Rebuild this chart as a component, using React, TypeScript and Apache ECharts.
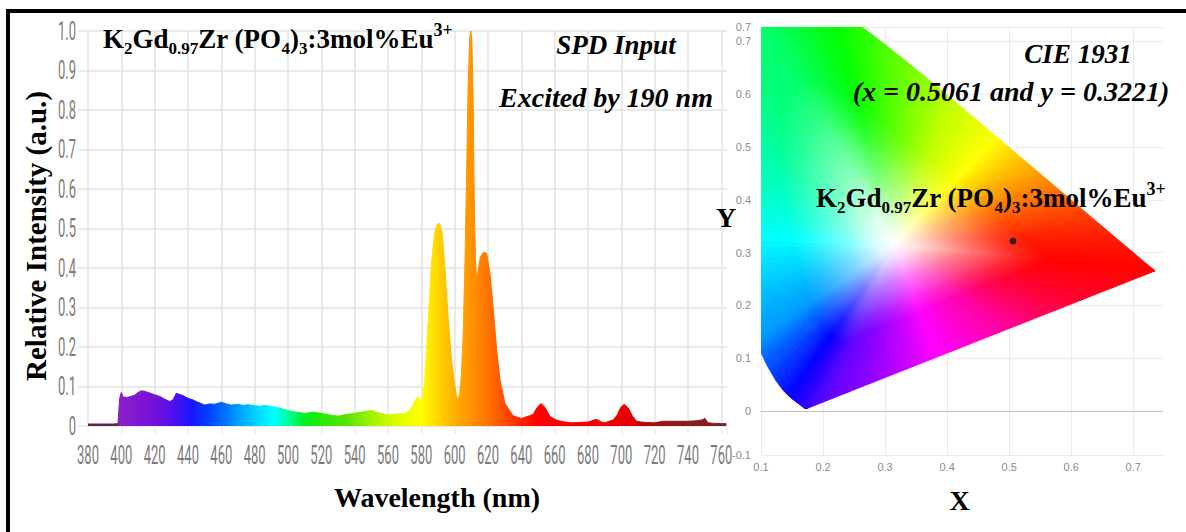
import React, { useEffect, useRef } from 'react';
import * as echarts from 'echarts';

// ---------- Spectrum (left panel) ----------
const wavelengths = [
  380, 385, 390, 395, 398, 399, 400, 401, 403, 405, 408, 410, 412, 414, 416, 418, 420, 423, 426, 429,
  431, 433, 435, 437, 440, 443, 446, 450, 453, 456, 460, 463, 466, 470, 473, 476, 480, 483, 486, 490,
  494, 497, 500, 505, 510, 515, 520, 525, 530, 535, 540, 545, 550, 553, 556, 560, 565, 570, 573, 575,
  577, 578, 580, 582, 584, 586, 588, 589.5, 591, 592.5, 594, 596, 598, 600, 601.5, 603, 604, 605, 606, 607,
  608, 609, 609.7, 610.3, 611, 611.7, 612.5, 613.2, 614, 615.4, 617.4, 619.2, 621.2, 623.2, 625.2, 627.2, 630.2, 635,
  640, 645, 647.2, 649.2, 651.8, 654.2, 657.2, 661, 665, 670, 675, 680, 685, 688, 690, 695, 697.6, 699.6,
  701.8, 704.2, 706.8, 709.2, 712, 715, 720, 725, 730, 735, 740, 745, 749, 750, 752, 755, 760, 763
];
const intensity = [
  0.005, 0.005, 0.005, 0.005, 0.006, 0.07, 0.085, 0.074, 0.072, 0.074, 0.078, 0.085, 0.089, 0.088, 0.085, 0.082, 0.079, 0.075, 0.068, 0.062,
  0.066, 0.083, 0.08, 0.077, 0.07, 0.066, 0.06, 0.053, 0.056, 0.055, 0.06, 0.056, 0.053, 0.055, 0.052, 0.054, 0.051, 0.05, 0.052, 0.05,
  0.046, 0.043, 0.039, 0.035, 0.032, 0.035, 0.032, 0.028, 0.025, 0.029, 0.032, 0.036, 0.039, 0.035, 0.032, 0.028, 0.03, 0.032, 0.04, 0.054,
  0.07, 0.074, 0.062, 0.11, 0.26, 0.41, 0.49, 0.51, 0.513, 0.49, 0.41, 0.28, 0.17, 0.105, 0.066, 0.08, 0.13, 0.22, 0.38, 0.6,
  0.85, 0.98, 1.0, 0.98, 0.85, 0.58, 0.42, 0.365, 0.39, 0.428, 0.44, 0.437, 0.386, 0.294, 0.192, 0.116, 0.057, 0.026,
  0.019, 0.026, 0.03, 0.045, 0.057, 0.047, 0.024, 0.015, 0.011, 0.008, 0.009, 0.01, 0.017, 0.01, 0.008, 0.015, 0.028, 0.047,
  0.055, 0.045, 0.024, 0.012, 0.01, 0.009, 0.008, 0.012, 0.012, 0.012, 0.012, 0.013, 0.016, 0.02, 0.008, 0.007, 0.006, 0.006
];
const xTickValues = [380, 400, 420, 440, 460, 480, 500, 520, 540, 560, 580, 600, 620, 640, 660, 680, 700, 720, 740, 760];
const yTickValues = [0, 0.1, 0.2, 0.3, 0.4, 0.5, 0.6, 0.7, 0.8, 0.9, 1.0];
const yTickLabels = ['0', '0.1', '0.2', '0.3', '0.4', '0.5', '0.6', '0.7', '0.8', '0.9', '1.0'];

// colour of the spectrum fill along wavelength
const gradWl = [380, 397, 399, 420, 432, 442, 452, 462, 472, 482, 492, 500, 510, 522, 535, 548, 560, 570, 580, 590, 600, 610, 620, 630, 640, 650, 690, 702, 712, 722, 740, 763];
const gradColor = ['#5a2550', '#5a2550', '#8c1fc8', '#7410d8', '#4a10f0', '#1a14ff', '#0040ff', '#0070ff', '#00a8ff', '#00d8ff', '#00ffff', '#00ff9a', '#00f020', '#30e800', '#58e400', '#98f000', '#c8fa00', '#e8ff00', '#ffff00', '#ffd400', '#ffb000', '#ff9200', '#ff7400', '#ff4c00', '#ff2200', '#ff0000', '#f20000', '#e80000', '#c80000', '#a01212', '#8a1c1c', '#7a2020'];

// ---------- CIE 1931 (right panel) ----------
// spectral locus 380..700 nm
const locus: [number, number][] = [
  [0.1741, 0.005], [0.174, 0.005], [0.1738, 0.0049], [0.1736, 0.0049], [0.1733, 0.0048], [0.173, 0.0048],
  [0.1726, 0.0048], [0.1721, 0.0048], [0.1714, 0.0051], [0.1703, 0.0058], [0.1689, 0.0069], [0.1669, 0.0086],
  [0.1644, 0.0109], [0.1611, 0.0138], [0.1566, 0.0177], [0.151, 0.0227], [0.144, 0.0297], [0.1355, 0.0399],
  [0.1241, 0.0578], [0.1096, 0.0868], [0.0913, 0.1327], [0.0687, 0.2007], [0.0454, 0.295], [0.0235, 0.4127],
  [0.0082, 0.5384], [0.0039, 0.6548], [0.0139, 0.7502], [0.0389, 0.812], [0.0743, 0.8338], [0.1142, 0.8262],
  [0.1547, 0.8059], [0.1929, 0.7816], [0.2296, 0.7543], [0.2658, 0.7243], [0.3016, 0.6923], [0.3373, 0.6589],
  [0.3731, 0.6245], [0.4087, 0.5896], [0.4441, 0.5547], [0.4788, 0.5202], [0.5125, 0.4866], [0.5448, 0.4544],
  [0.5752, 0.4242], [0.6029, 0.3965], [0.627, 0.3725], [0.6482, 0.3514], [0.6658, 0.334], [0.6801, 0.3197],
  [0.6915, 0.3083], [0.7006, 0.2993], [0.7079, 0.292], [0.719, 0.2809], [0.726, 0.274], [0.73, 0.27],
  [0.7334, 0.2666], [0.7347, 0.2653]
];
// line of purples, from red end back to violet end
const purpleLine: [number, number][] = [
  [0.7, 0.249], [0.65, 0.226], [0.6, 0.2027], [0.55, 0.1795], [0.5, 0.1563], [0.45, 0.1331],
  [0.4, 0.1099], [0.35, 0.0867], [0.3, 0.0635], [0.25, 0.0403], [0.2, 0.017]
];
const whitePoint: [number, number] = [0.315, 0.315];
const samplePoint: [number, number] = [0.5061, 0.3221];

// hue of the boundary around the white point (style)
const angleAnchors = [-7.5, 5, 28, 51, 72, 91.5, 98, 117, 159, 185, 219, 239, 250, 268, 287.6, 318, 337.5, 352.5];
const hueAnchors = [0, 8, 34, 60, 75, 101, 112, 145, 170, 185, 204, 240, 263, 281, 300, 322, 346, 360];
const whiteMixStops = [[0, 1], [0.1, 0.86], [0.28, 0.48], [0.48, 0.14], [0.6, 0], [1, 0]];
const SUBDIV = 8;

const serif = '"Liberation Serif", "Times New Roman", serif';
const sans = '"Liberation Sans", Arial, sans-serif';

function hueAt(angle: number): number {
  let a = angle;
  if (a < angleAnchors[0]) a += 360;
  if (a >= angleAnchors[angleAnchors.length - 1]) a -= 360;
  for (let i = 0; i < angleAnchors.length - 1; i++) {
    if (a >= angleAnchors[i] && a <= angleAnchors[i + 1]) {
      const t = (a - angleAnchors[i]) / (angleAnchors[i + 1] - angleAnchors[i]);
      return hueAnchors[i] + t * (hueAnchors[i + 1] - hueAnchors[i]);
    }
  }
  return 0;
}
function hueRgb(hue: number): number[] {
  const h = ((hue % 360) + 360) % 360;
  const x = 1 - Math.abs(((h / 60) % 2) - 1);
  let r = 0, g = 0, b = 0;
  if (h < 60) { r = 1; g = x; } else if (h < 120) { r = x; g = 1; } else if (h < 180) { g = 1; b = x; }
  else if (h < 240) { g = x; b = 1; } else if (h < 300) { r = x; b = 1; } else { r = 1; b = x; }
  return [r * 255, g * 255, b * 255];
}
function mixWhite(c: number[], m: number): string {
  const f = (v: number) => Math.round(v * (1 - m) + 255 * m);
  return `rgb(${f(c[0])},${f(c[1])},${f(c[2])})`;
}

const formulaText = '{m|K}{s|2}{m|Gd}{s|0.97}{m|Zr (PO}{s|4}{m|)}{s|3}{m|:3mol%Eu}{p|3+}';
const formulaRich = {
  m: { fontSize: 27, fontWeight: 'bold', fontFamily: serif, fill: '#000', color: '#000', lineHeight: 36 },
  s: { fontSize: 17, fontWeight: 'bold', fontFamily: serif, fill: '#000', color: '#000', lineHeight: 17, verticalAlign: 'bottom' },
  p: { fontSize: 18, fontWeight: 'bold', fontFamily: serif, fill: '#000', color: '#000', lineHeight: 26, verticalAlign: 'top' }
};

function titleText(x: number, y: number, text: string, size: number, italic: boolean, rotation = 0) {
  return {
    type: 'text', x, y, rotation, z: 100,
    style: {
      text, fontSize: size, fontWeight: 'bold', fontStyle: italic ? 'italic' : 'normal',
      fontFamily: serif, fill: '#000', align: 'center', verticalAlign: 'middle'
    }
  };
}

export default function App() {
  const leftRef = useRef<HTMLDivElement>(null);
  const rightRef = useRef<HTMLDivElement>(null);

  useEffect(() => {
    if (!leftRef.current || !rightRef.current) return;
    const left = echarts.init(leftRef.current, null, { renderer: 'svg' });
    const right = echarts.init(rightRef.current, null, { renderer: 'svg' });

    const wlMin = wavelengths[0];
    const wlMax = wavelengths[wavelengths.length - 1];
    const stops = gradWl.map((w, i) => ({ offset: Math.min(1, Math.max(0, (w - wlMin) / (wlMax - wlMin))), color: gradColor[i] }));
    const spectrumFill = new echarts.graphic.LinearGradient(0, 0, 1, 0, stops);
    const grid = '#e3e3e3';

    left.setOption({
      animation: false,
      backgroundColor: '#fff',
      grid: { left: 88, right: 7, top: 31, bottom: 106 },
      xAxis: {
        type: 'value', min: 380, max: 763.4, interval: 20,
        axisLabel: { show: false }, axisLine: { show: false },
        axisTick: { show: true, length: 8, lineStyle: { color: '#ececec', width: 1.5 } },
        splitLine: { show: true, showMaxLine: false, lineStyle: { color: grid, width: 1.5 } }
      },
      yAxis: {
        type: 'value', min: 0, max: 1, interval: 0.1,
        axisLabel: { show: false }, axisLine: { show: false },
        axisTick: { show: true, length: 10, lineStyle: { color: grid, width: 1.5 } },
        splitLine: { show: true, lineStyle: { color: grid, width: 1.5 } }
      },
      series: [
        {
          type: 'line', name: 'SPD', symbol: 'none', z: 3,
          data: wavelengths.map((w, i) => [w, intensity[i]]),
          lineStyle: { width: 1, color: spectrumFill },
          areaStyle: { color: spectrumFill, opacity: 1 }
        },
        {
          type: 'custom', name: 'xLabels', clip: false, silent: true,
          data: xTickValues.map((v) => [v, 0]),
          renderItem: (params: any, api: any) => {
            const v = xTickValues[params.dataIndex];
            const p = api.coord([v, 0]);
            return {
              type: 'text', x: p[0], y: p[1] + 29, scaleX: 0.5,
              style: { text: String(v), fontSize: 26, fontFamily: 'Roboto, sans-serif', fill: '#7b7b7b', align: 'center', verticalAlign: 'middle' }
            };
          }
        },
        {
          type: 'custom', name: 'yLabels', clip: false, silent: true,
          data: yTickValues.map((v) => [380, v]),
          renderItem: (params: any, api: any) => {
            const v = yTickValues[params.dataIndex];
            const p = api.coord([380, v]);
            return {
              type: 'text', x: p[0] - 12, y: p[1], scaleX: 0.5,
              style: { text: yTickLabels[params.dataIndex], fontSize: 26, fontFamily: 'Roboto, sans-serif', fill: '#7b7b7b', align: 'right', verticalAlign: 'middle' }
            };
          }
        }
      ],
      graphic: [
        { type: 'text', x: 103, y: 39, z: 100, style: { text: formulaText, rich: formulaRich, fontFamily: serif, fontSize: 27, fill: '#000', align: 'left', verticalAlign: 'middle' } },
        titleText(616, 45, 'SPD Input', 27, true),
        titleText(606, 97, 'Excited by 190 nm', 28, true),
        titleText(437, 497, 'Wavelength (nm)', 28, false),
        titleText(36, 236, 'Relative Intensity (a.u.)', 29, false, Math.PI / 2)
      ]
    });

    const boundary: [number, number][] = [...locus, ...purpleLine];
    const fmt = (v: number) => (Math.abs(v) < 1e-9 ? '0' : v.toFixed(1));
    const cieGrid = '#ebebeb';

    right.setOption({
      animation: false,
      grid: { left: 46, right: 23, top: 27, bottom: 77 },
      xAxis: {
        type: 'value', min: 0.1, max: 0.748, interval: 0.1,
        axisLabel: { formatter: fmt, color: '#8c8c8c', fontSize: 11, fontFamily: sans, margin: 6, showMaxLabel: false },
        axisLine: { show: true, lineStyle: { color: '#dadada' } },
        axisTick: { show: false },
        splitLine: { show: true, showMaxLine: false, lineStyle: { color: cieGrid } }
      },
      yAxis: {
        type: 'value', min: -0.083, max: 0.727, splitNumber: 8, minInterval: 0.1, maxInterval: 0.1,
        axisLabel: { formatter: fmt, color: '#8c8c8c', fontSize: 11, fontFamily: sans, margin: 10, showMinLabel: true, showMaxLabel: true },
        axisLine: { show: false },
        axisTick: { show: false },
        splitLine: { show: true, lineStyle: { color: cieGrid } }
      },
      series: [
        {
          type: 'custom', name: 'gamut', clip: true, silent: true,
          data: boundary,
          renderItem: (params: any, api: any) => {
            const n = boundary.length;
            const a = boundary[params.dataIndex];
            const b = boundary[(params.dataIndex + 1) % n];
            const pw = api.coord(whitePoint);
            const children: any[] = [];
            for (let j = 0; j < SUBDIV; j++) {
              const t0 = j / SUBDIV;
              const t1 = (j + 1) / SUBDIV;
              const q0 = [a[0] + (b[0] - a[0]) * t0, a[1] + (b[1] - a[1]) * t0];
              const q1 = [a[0] + (b[0] - a[0]) * t1, a[1] + (b[1] - a[1]) * t1];
              const mx = (q0[0] + q1[0]) / 2;
              const my = (q0[1] + q1[1]) / 2;
              const ang = (Math.atan2(my - whitePoint[1], mx - whitePoint[0]) * 180) / Math.PI;
              const c = hueRgb(hueAt(ang));
              const pm = api.coord([mx, my]);
              const fill = {
                type: 'linear', x: pw[0], y: pw[1], x2: pm[0], y2: pm[1], global: true,
                colorStops: whiteMixStops.map((s) => ({ offset: s[0], color: mixWhite(c, s[1]) }))
              };
              children.push({
                type: 'polygon',
                shape: { points: [pw, api.coord(q0), api.coord(q1)] },
                style: { fill, stroke: fill, lineWidth: 0.8 }
              });
            }
            return { type: 'group', children };
          }
        },
        {
          type: 'scatter', name: 'sample', z: 5,
          data: [samplePoint], symbolSize: 7,
          itemStyle: { color: '#111' },
          markLine: {
            silent: true, symbol: 'none', label: { show: false },
            lineStyle: { color: '#c4c4c4', type: 'solid', width: 1 },
            data: [{ yAxis: 0 }]
          }
        }
      ],
      graphic: [
        titleText(363, 54, 'CIE 1931', 27, true),
        titleText(296, 91, '(x = 0.5061 and y = 0.3221)', 28, true),
        { type: 'text', x: 101, y: 198, z: 100, style: { text: formulaText, rich: formulaRich, fontFamily: serif, fontSize: 27, fill: '#000', align: 'left', verticalAlign: 'middle' } },
        titleText(11, 217, 'Y', 28, false),
        titleText(244.5, 500, 'X', 28, false)
      ]
    });

    return () => {
      left.dispose();
      right.dispose();
    };
  }, []);

  return (
    <div style={{ position: 'absolute', left: 0, top: 0, width: 1186, height: 532, background: '#fff', overflow: 'hidden' }}>
      <div ref={leftRef} style={{ position: 'absolute', left: 0, top: 0, width: 734, height: 532 }} />
      <div
        ref={rightRef}
        style={{ position: 'absolute', left: 715, top: 0, width: 471, height: 532, background: 'linear-gradient(to right, rgba(255,255,255,0) 19px, #fff 19px)' }}
      />
      <div style={{ position: 'absolute', left: 6, top: 9, width: 4, height: 523, background: '#000', pointerEvents: 'none' }} />
      <div style={{ position: 'absolute', left: 6, top: 9, width: 1180, height: 4, background: '#000', pointerEvents: 'none' }} />
    </div>
  );
}
